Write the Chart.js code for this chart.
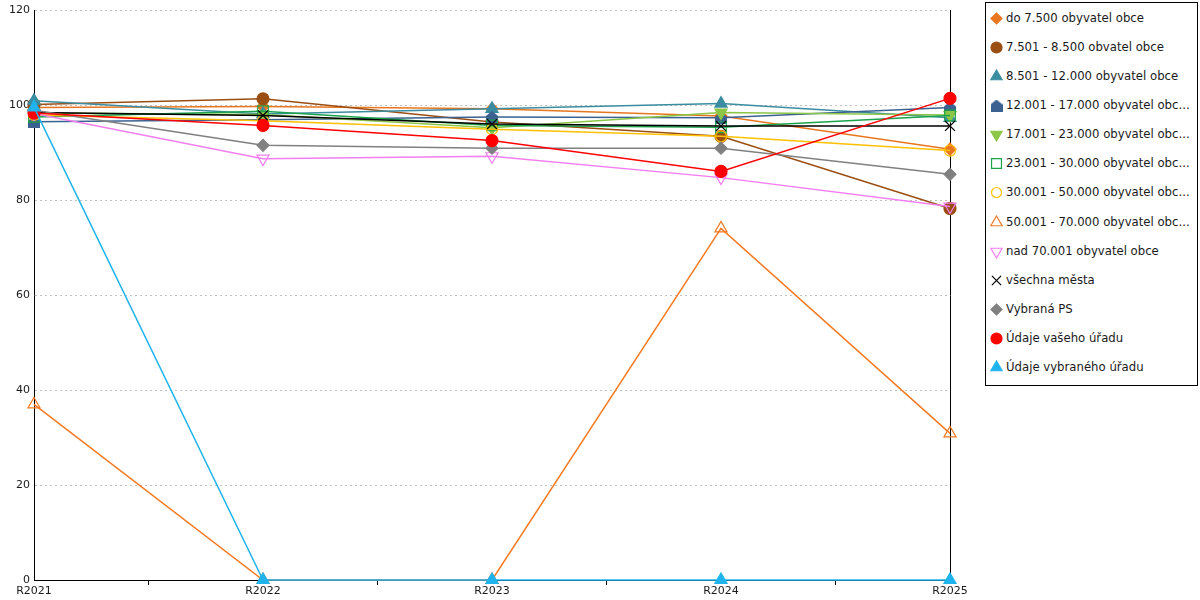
<!DOCTYPE html>
<html>
<head>
<meta charset="utf-8">
<script src="https://cdn.jsdelivr.net/npm/chart.js@4.4.1/dist/chart.umd.min.js"></script>
<style>
    body { margin: 0; background: #fff; font-family: "DejaVu Sans", sans-serif; }
    #wrap { position: relative; width: 1200px; height: 600px; }
    #chart { position: absolute; left: 0; top: 0; }
    #legend {
        position: absolute; left: 985px; top: 2px; width: 211px; height: 382px;
        border: 1px solid #000; background: #fff;
    }
    .item { position: absolute; left: 0; height: 16px; width: 211px; }
    .item canvas { position: absolute; left: 3px; top: 1px; }
    .item span {
        position: absolute; left: 20px; top: 0; width: 190px; line-height: 16px;
        font-size: 11.7px; color: #1a1a1a; white-space: nowrap; overflow: hidden;
    }
</style>
</head>
<body>
<div id="wrap">
    <canvas id="chart" width="1200" height="600"></canvas>
    <div id="legend"></div>
</div>
<script>
// Categories (years)
const years = ['R2021', 'R2022', 'R2023', 'R2024', 'R2025'];

// Series names
const seriesNames = [
    'do 7.500 obyvatel obce',
    '7.501 - 8.500 obvatel obce',
    '8.501 - 12.000 obyvatel obce',
    '12.001 - 17.000 obyvatel obce',
    '17.001 - 23.000 obyvatel obce',
    '23.001 - 30.000 obyvatel obce',
    '30.001 - 50.000 obyvatel obce',
    '50.001 - 70.000 obyvatel obce',
    'nad 70.001 obyvatel obce',
    'všechna města',
    'Vybraná PS',
    'Údaje vašeho úřadu',
    'Údaje vybraného úřadu'
];

// Series values
const do7500      = [99.6, 99.8, 99.3, 97.8, 90.8];
const to8500      = [100.2, 101.4, 96.5, 93.5, 78.3];
const to12000     = [101.0, 98.2, 99.3, 100.4, 97.4];
const to17000     = [96.6, 97.0, 97.6, 97.4, 99.6];
const to23000     = [98.4, 98.1, 95.3, 98.5, 98.0];
const to30000     = [97.6, 98.8, 95.8, 95.4, 97.9];
const to50000     = [98.0, 96.8, 95.0, 93.5, 90.5];
const to70000     = [37.0, 0, 0, 74.1, 30.9];
const nad70001    = [98.3, 88.8, 89.3, 84.8, 78.7];
const vsechna     = [98.5, 97.9, 96.1, 95.7, 95.7];
const vybranaPS   = [99.0, 91.6, 91.0, 91.0, 85.5];
const vasUrad     = [98.4, 95.8, 92.6, 86.1, 101.5];
const vybranyUrad = [99.6, 0, 0, 0, 0];

// Y axis ticks
const yMin = 0, yMax = 120, yStep = 20;

const seriesValues = [do7500, to8500, to12000, to17000, to23000, to30000, to50000,
    to70000, nad70001, vsechna, vybranaPS, vasUrad, vybranyUrad];

// "house" shaped marker for 12.001 - 17.000
function houseMarker(color) {
    const c = document.createElement('canvas');
    c.width = 12; c.height = 12;
    const g = c.getContext('2d');
    g.fillStyle = color;
    g.beginPath();
    g.moveTo(6, 0); g.lineTo(12, 5); g.lineTo(12, 12); g.lineTo(0, 12); g.lineTo(0, 5);
    g.closePath();
    g.fill();
    return c;
}

const none = 'rgba(0,0,0,0)';
const styles = [
    { color: '#E8761E', point: 'rectRot', r: 6, fill: true },
    { color: '#9B4E12', point: 'circle', r: 6, fill: true },
    { color: '#3A8CA0', point: 'triangle', r: 7, fill: true },
    { color: '#3A6190', point: houseMarker('#3A6190'), r: 6, fill: true },
    { color: '#8CC646', point: 'triangle', rot: 180, r: 7, fill: true },
    { color: '#1BA34B', point: 'rect', r: 7.5, fill: false },
    { color: '#FFC000', point: 'circle', r: 5.5, fill: false },
    { color: '#F47A22', point: 'triangle', r: 7, fill: false },
    { color: '#F27EF0', point: 'triangle', rot: 180, r: 7, fill: false },
    { color: '#000000', point: 'crossRot', r: 7, fill: false },
    { color: '#808080', point: 'rectRot', r: 6, fill: true },
    { color: '#FF0000', point: 'circle', r: 6, fill: true },
    { color: '#1FB4EE', point: 'triangle', r: 7, fill: true }
];

const datasets = seriesNames.map((name, i) => ({
    label: name,
    data: seriesValues[i],
    borderColor: styles[i].color,
    borderWidth: 1.5,
    pointStyle: styles[i].point,
    pointRotation: styles[i].rot || 0,
    pointRadius: styles[i].r,
    pointHoverRadius: styles[i].r,
    pointBorderColor: styles[i].color,
    pointBackgroundColor: styles[i].fill ? styles[i].color : none,
    pointBorderWidth: 1.2,
    tension: 0,
    fill: false,
    clip: false,
    order: seriesNames.length - i
}));

new Chart(document.getElementById('chart'), {
    type: 'line',
    data: { labels: years, datasets: datasets },
    options: {
        responsive: false,
        animation: false,
        layout: { padding: { top: 10, right: 250, bottom: 0, left: 0 } },
        plugins: { legend: { display: false }, tooltip: { enabled: false } },
        scales: {
            x: {
                offset: false,
                grid: { offset: true, drawOnChartArea: false, color: '#000', tickLength: 5 },
                border: { color: '#000' },
                ticks: { color: '#1a1a1a', font: { family: 'DejaVu Sans', size: 11 }, padding: 0, maxRotation: 0 },
                afterFit(scale) { scale.height = 20; }
            },
            y: {
                min: yMin, max: yMax,
                ticks: { stepSize: yStep, color: '#1a1a1a', font: { family: 'DejaVu Sans', size: 11 }, padding: 4 },
                grid: { color: '#c0c0c0', drawTicks: false, lineWidth: 1 },
                border: { color: '#000', dash: [2, 3] },
                afterFit(scale) { scale.width = 34; }
            },
            y2: {
                position: 'right',
                min: yMin, max: yMax,
                ticks: { display: false },
                grid: { drawOnChartArea: false, drawTicks: false },
                border: { color: '#000' },
                afterFit(scale) { scale.width = 0; }
            }
        }
    }
});

// HTML legend with the same markers; long names are cut like in the original
const legend = document.getElementById('legend');
seriesNames.forEach((name, i) => {
    const item = document.createElement('div');
    item.className = 'item';
    item.style.top = (7 + i * 29.08) + 'px';
    const c = document.createElement('canvas');
    c.width = 15; c.height = 15;
    const g = c.getContext('2d');
    const s = styles[i];
    if (typeof s.point !== 'string') {
        g.drawImage(s.point, 1.5, 1.5);
    } else if (Chart.helpers && Chart.helpers.drawPoint) {
        g.strokeStyle = s.color;
        g.fillStyle = s.fill ? s.color : none;
        g.lineWidth = 1.2;
        Chart.helpers.drawPoint(g, { pointStyle: s.point, rotation: s.rot || 0, radius: s.r - 0.5, borderWidth: 1.2 }, 7.5, 7.5);
    }
    const t = document.createElement('span');
    t.textContent = name.length > 28 ? name.slice(0, 28) + '...' : name;
    item.appendChild(c);
    item.appendChild(t);
    legend.appendChild(item);
});
</script>
</body>
</html>
